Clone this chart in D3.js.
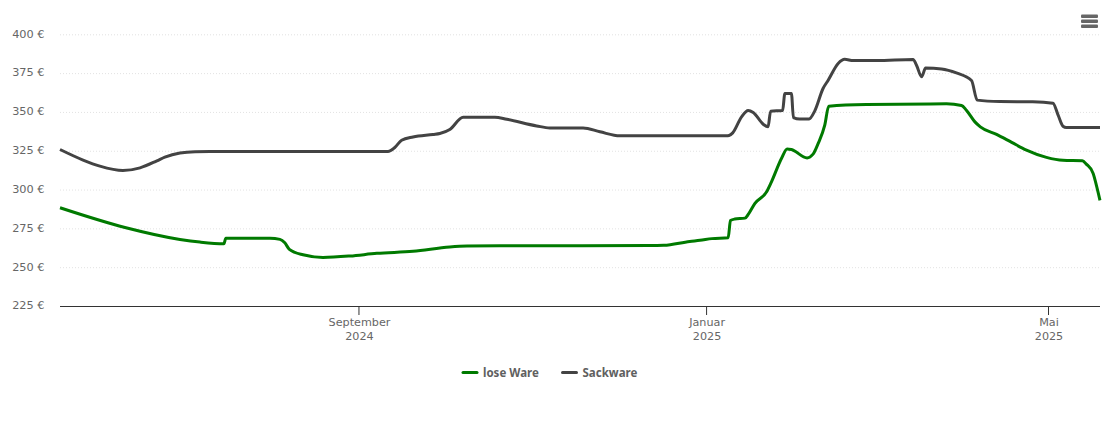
<!DOCTYPE html>
<html>
<head>
<meta charset="utf-8">
<script src="https://cdn.jsdelivr.net/npm/d3@7"></script>
<style>
html, body { margin: 0; padding: 0; background: #fff; }
text { font-family: "DejaVu Sans", sans-serif; }
</style>
</head>
<body>
<div id="chart"></div>
<script>
// days are counted from startDate
var startDate = "2024-05-19T06:00:00Z";
var endDate = "2025-05-19T06:00:00Z";

var looseDays = [0, 22.8, 42.1, 49.1, 57.5, 58.2, 73.7, 77.2, 78.9, 80.5, 85.3, 92.3, 101.8, 111.2, 123.9, 136.8, 142.8, 154.4, 207, 211.9, 221, 224.6, 228.8, 234.5, 235.3, 236.8, 240.4, 241.4, 243.9, 248, 249.7, 253.2, 255.2, 256.7, 262.2, 264.3, 266.1, 268.4, 269.8, 283, 311.1, 316.4, 318.1, 321.1, 323, 328.7, 334, 339.2, 346.2, 352, 358.8, 360.2, 362.6, 363.2, 365];
var looseValues = [288.3, 275.6, 267.9, 266.2, 265.1, 268.6, 268.6, 267.9, 265.7, 261.5, 258, 256.3, 257.2, 258.9, 260.2, 263, 263.6, 263.8, 263.9, 264.1, 266.6, 267.3, 268.4, 269, 280.1, 281, 281.6, 283.6, 291.1, 298.6, 305, 320, 326.2, 325.8, 320.4, 322.8, 329.7, 341.5, 353.7, 354.8, 355.2, 354.2, 351.1, 343.6, 340.4, 335.5, 330.4, 325.4, 320.7, 318.8, 318.5, 316.4, 310.4, 306.5, 293];

var sackDays = [0, 8.1, 14, 22.1, 28.1, 34, 36.8, 42.1, 47.4, 52.6, 115.1, 117.5, 119.9, 123.9, 130.9, 133.3, 136.8, 141.5, 152.6, 156.8, 167.3, 171.9, 183.6, 189.5, 196.5, 233.9, 234.8, 236.1, 239.2, 241.5, 243.3, 246.8, 248.5, 249.4, 253.6, 254.4, 256.7, 257.4, 259.6, 262.9, 264.9, 267.8, 269.6, 273.1, 275.4, 278.4, 286.6, 299.4, 300.6, 302.4, 303.8, 309.4, 314.6, 319.9, 321.9, 329.8, 341.4, 348.5, 350.3, 352, 353.2, 365];
var sackValues = [325.8, 319, 315.1, 312.3, 314, 318.5, 320.9, 323.6, 324.4, 324.5, 324.5, 327.1, 331.8, 333.9, 335.5, 336.1, 338.7, 346.6, 346.6, 345.3, 341, 339.7, 339.7, 337.2, 334.6, 334.6, 334.8, 336.5, 346.8, 350.9, 349.6, 342.1, 340.4, 350.5, 350.9, 361.9, 361.9, 346.4, 345.5, 345.5, 350.7, 365.1, 370.4, 381.2, 383.9, 383.1, 383.1, 383.8, 380.1, 372.6, 378.3, 377.7, 375.1, 370.2, 357.6, 356.7, 356.5, 355.6, 347.9, 340.8, 340, 340];

var yTicks = [225, 250, 275, 300, 325, 350, 375, 400];
var xTicks = ["2024-09-01", "2025-01-01", "2025-05-01"];
var xTickLabels = [["September", "2024"], ["Januar", "2025"], ["Mai", "2025"]];
var seriesNames = ["lose Ware", "Sackware"];
var seriesColors = ["#007a00", "#434343"];

var width = 1110;
var height = 423;
var left = 60, right = 1100, top_y = 34.3, bottom = 306;

var parseDay = d3.utcParse("%Y-%m-%d");
var start = d3.isoParse(startDate);

function dayToDate(d) {
    return new Date(start.getTime() + d * 86400000);
}

var x = d3.scaleUtc().domain([start, d3.isoParse(endDate)]).range([left, right]);
var y = d3.scaleLinear().domain([225, 400]).range([bottom, top_y]);

var svg = d3.select("#chart").append("svg")
        .attr("width", width)
        .attr("height", height)
        .style("display", "block");

// y axis and dotted grid
var yAxis = svg.append("g")
        .attr("transform", "translate(" + left + ",0)")
        .call(d3.axisLeft(y).tickValues(yTicks).tickSize(-(right - left)).tickPadding(15.5)
                .tickFormat(function(d) { return d + " €"; }));
yAxis.select(".domain").remove();
yAxis.selectAll("line")
        .attr("stroke", "#e2e2e2")
        .attr("stroke-dasharray", "1,2")
        .filter(function(d) { return d == 225; }).remove();
yAxis.selectAll("text")
        .attr("dy", "0.25em")
        .attr("font-family", '"DejaVu Sans", sans-serif')
        .attr("font-size", "11.3px")
        .attr("fill", "#666666");

// x axis with two line labels
var xAxis = svg.append("g")
        .attr("transform", "translate(0," + bottom + ")")
        .call(d3.axisBottom(x).tickValues(xTicks.map(parseDay)).tickSize(9).tickFormat(""));
xAxis.select(".domain").attr("d", "M" + left + ",0.5H" + right).attr("stroke", "#333333");
xAxis.selectAll("line").attr("stroke", "#333333");
xAxis.selectAll(".tick text").remove();
xAxis.selectAll(".tick").each(function(d, i) {
    var t = d3.select(this).append("text")
            .attr("text-anchor", "middle")
            .attr("font-family", '"DejaVu Sans", sans-serif')
            .attr("font-size", "11.2px")
            .attr("fill", "#666666");
    xTickLabels[i].forEach(function(lb, j) {
        t.append("tspan").attr("x", 0.5).attr("y", 19.5 + j * 14.5).text(lb);
    });
});

// lines
var line = d3.line()
        .x(function(d) { return x(dayToDate(d[0])); })
        .y(function(d) { return y(d[1]); })
        .curve(d3.curveMonotoneX);

var looseData = d3.zip(looseDays, looseValues);
var sackData = d3.zip(sackDays, sackValues);

[looseData, sackData].forEach(function(data, i) {
    svg.append("path")
            .datum(data)
            .attr("d", line)
            .attr("fill", "none")
            .attr("stroke", seriesColors[i])
            .attr("stroke-width", 3)
            .attr("stroke-linejoin", "round");
});

// legend
var legendX = [463, 562.5];
seriesNames.forEach(function(name, i) {
    svg.append("line")
            .attr("x1", legendX[i]).attr("x2", legendX[i] + 14)
            .attr("y1", 372.5).attr("y2", 372.5)
            .attr("stroke", seriesColors[i])
            .attr("stroke-width", 3)
            .attr("stroke-linecap", "round");
    svg.append("text")
            .attr("x", legendX[i] + 20)
            .attr("y", 377)
            .attr("font-family", '"Noto Sans", sans-serif')
            .style("font-family", '"Noto Sans", sans-serif')
            .attr("font-size", "11.5px")
            .attr("font-weight", "bold")
            .attr("fill", "#606060")
            .text(name);
});

// menu icon
[16, 21, 26].forEach(function(yy) {
    svg.append("rect")
            .attr("x", 1081).attr("y", yy - 1.5)
            .attr("width", 17).attr("height", 3.4)
            .attr("rx", 1)
            .attr("fill", "#666666");
});
</script>
</body>
</html>
